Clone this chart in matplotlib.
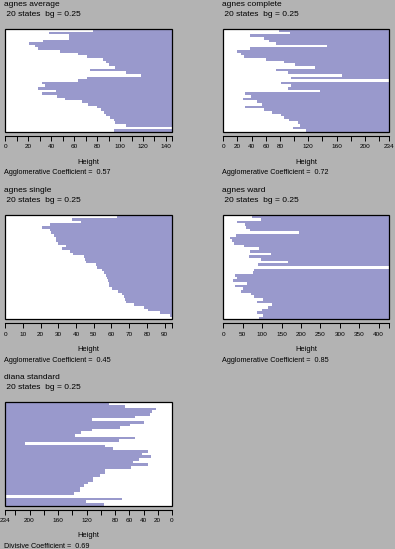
import matplotlib
matplotlib.use("Agg")
import matplotlib.pyplot as plt
from matplotlib.patches import Rectangle

plt.rcParams['font.family'] = ['Liberation Sans', 'DejaVu Sans']

W, H = 395, 549
BG = '#b3b3b3'
LAV = '#9999cc'

# banner heights, rows listed top to bottom
avg_h = [76.8, 38.3, 55.3, 55.8, 33.1, 20.9, 26.1, 28.8, 48.0, 63.0,
         70.8, 85.5, 87.5, 90.0, 95.2, 73.5, 105.0, 118.0, 70.8, 63.7,
         32.3, 34.6, 28.8, 44.3, 32.3, 45.0, 52.3, 67.1, 72.5, 79.7,
         83.4, 85.8, 87.5, 91.2, 94.4, 95.3, 105.0, 145.3, 94.7]
comp_h = [78.2, 93.8, 37.0, 56.9, 64.0, 73.9, 146.4, 37.0, 19.9, 25.6,
          29.9, 59.7, 85.3, 100.9, 129.4, 73.9, 91.0, 167.8, 95.3, 234.0,
          81.0, 95.3, 91.0, 136.5, 31.3, 39.8, 28.4, 46.9, 54.0, 31.3,
          56.9, 68.2, 81.0, 85.3, 92.4, 105.2, 108.1, 98.1, 116.6]
single_h = [63.3, 37.8, 42.9, 25.3, 20.8, 25.3, 25.9, 27.6, 28.7, 28.7,
            29.9, 34.4, 32.1, 36.7, 38.4, 44.6, 45.2, 45.7, 51.4, 52.0,
            54.8, 56.0, 57.1, 57.7, 58.2, 58.8, 58.8, 60.5, 63.9, 66.2,
            67.3, 67.9, 68.4, 73.0, 78.1, 80.9, 87.7, 92.8, 94.2]
ward_h = [75, 98, 36, 57, 59, 70, 196, 33.5, 18, 23,
          28, 54, 93, 70, 124, 67, 98, 168, 90, 427,
          80, 77, 31, 36, 26, 62, 31, 52, 46, 72,
          80, 103, 88, 126, 114, 101, 88, 103, 93]
diana_h = [88, 66, 22, 28, 30.5, 52, 112, 39, 59, 73,
           112, 128, 136, 52, 74, 207, 94, 83, 33, 42,
           29, 47, 54.5, 33, 57, 94, 94, 101, 111, 111,
           118, 124, 129, 129, 138, 234, 70, 121, 95]

titles = ['agnes average', 'agnes complete', 'agnes single', 'agnes ward', 'diana standard']
subtitle = ' 20 states  bg = 0.25'
coef_txt = ['Agglomerative Coefficient =  0.57', 'Agglomerative Coefficient =  0.72',
            'Agglomerative Coefficient =  0.45', 'Agglomerative Coefficient =  0.85',
            'Divisive Coefficient =  0.69']

avg_ticks = [0, 10, 20, 30, 40, 50, 60, 70, 80, 90, 100, 110, 120, 130, 140, 145.3]
avg_labels = ['0', '', '20', '', '40', '', '60', '', '80', '', '100', '', '120', '', '140', '']
comp_ticks = [0, 20, 40, 60, 80, 100, 120, 140, 160, 180, 200, 220, 234]
comp_labels = ['0', '20', '40', '60', '80', '', '120', '', '160', '', '200', '', '234']
single_ticks = [0, 10, 20, 30, 40, 50, 60, 70, 80, 90, 94.2]
single_labels = ['0', '10', '20', '30', '40', '50', '60', '70', '80', '90', '']
ward_ticks = [0, 50, 100, 150, 200, 250, 300, 350, 400, 427]
ward_labels = ['0', '50', '100', '150', '200', '250', '300', '350', '400', '']

panels = [
    (avg_h, avg_ticks, avg_labels, (5.3, 29, 172, 132), False),
    (comp_h, comp_ticks, comp_labels, (223.3, 29, 389, 132), False),
    (single_h, single_ticks, single_labels, (5.3, 215.3, 172, 319.3), False),
    (ward_h, ward_ticks, ward_labels, (223.3, 215.3, 389, 319.3), False),
    (diana_h, comp_ticks, comp_labels, (5.3, 402.3, 172, 505.7), True),
]

fig = plt.figure(figsize=(W / 100, H / 100), dpi=100, facecolor=BG)


def ftext(x, y, s, **kw):
    fig.text(x / W, 1 - y / H, s, va='center', **kw)


for i, (vals, ticks, labels, box, rev) in enumerate(panels):
    x0, y0, x1, y1 = box
    ax = fig.add_axes([x0 / W, 1 - y1 / H, (x1 - x0) / W, (y1 - y0) / H])
    ax.set_facecolor('white')
    n = len(vals)
    m = max(vals)
    ys = [n - 1 - k for k in range(n)]
    rest = [m - v for v in vals]
    ax.barh(ys, vals, height=1, align='edge', color='white', lw=0, antialiased=False)
    ax.barh(ys, rest, left=vals, height=1, align='edge', color=LAV, lw=0, antialiased=False)
    ax.set_ylim(0, n)
    if rev:
        ax.set_xlim(m, 0)
    else:
        ax.set_xlim(0, m)
    for s in ['left', 'right', 'top']:
        ax.spines[s].set_visible(False)
    ax.spines['bottom'].set_position(('outward', 3))
    ax.spines['bottom'].set_bounds(0, m)
    ax.spines['bottom'].set_linewidth(0.8)
    ax.add_patch(Rectangle((0, 0), 1, 1, transform=ax.transAxes, fill=False,
                           ec='black', lw=0.9, clip_on=False, zorder=5))
    ax.set_yticks([])
    ax.set_xticks(ticks)
    ax.set_xticklabels(labels)
    ax.tick_params(axis='x', direction='out', length=3.5, width=0.7, pad=2.5,
                   labelsize=4.6, colors='black')

    ftext(x0 - 1.3, y0 - 25, titles[i], ha='left', fontsize=6)
    ftext(x0 - 1.3, y0 - 15, subtitle, ha='left', fontsize=6)
    ftext((x0 + x1) / 2, y1 + 30, 'Height', ha='center', fontsize=5.4)
    ftext(x0 - 1.3, y1 + 41, coef_txt[i], ha='left', fontsize=5.2)

fig.savefig('out.png', dpi=100, facecolor=BG)
